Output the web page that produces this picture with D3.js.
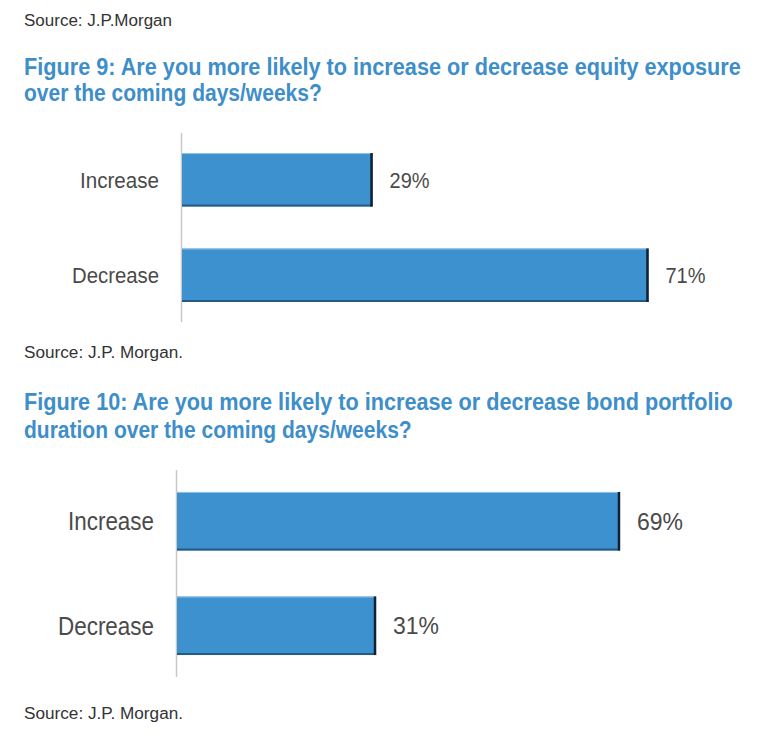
<!DOCTYPE html>
<html>
<head>
<meta charset="utf-8">
<script src="https://cdn.jsdelivr.net/npm/d3@7"></script>
<style>
  body { margin: 0; background: #fff; }
  text { font-family: "Liberation Sans", Arial, sans-serif; }
</style>
</head>
<body>
<div id="chart"></div>
<script>
// data
const categories = ['Increase', 'Decrease'];
const equityValues = [29, 71];
const bondValues = [69, 31];

const equityTitle = ['Figure 9: Are you more likely to increase or decrease equity exposure',
  'over the coming days/weeks?'];
const bondTitle = ['Figure 10: Are you more likely to increase or decrease bond portfolio',
  'duration over the coming days/weeks?'];
const sources = ['Source: J.P.Morgan', 'Source: J.P. Morgan.', 'Source: J.P. Morgan.'];

const WIDTH = 758;
const HEIGHT = 741;
const BLUE = '#3d8ec9';
const BAR = '#3e91cf';

const svg = d3.select('#chart')
  .append('svg')
  .attr('width', WIDTH)
  .attr('height', HEIGHT);

// text helper, squeezes the string into the width seen in the picture
function label(x, y, str, size, len, opts = {}) {
  const t = svg.append('text')
    .attr('x', x)
    .attr('y', y)
    .attr('font-size', size)
    .attr('fill', opts.fill || '#4a4a4a')
    .attr('font-weight', opts.bold ? 'bold' : 'normal')
    .attr('text-anchor', opts.anchor || 'start')
    .text(str);
  if (len) t.attr('textLength', len).attr('lengthAdjust', 'spacingAndGlyphs');
  return t;
}

// titles: narrow the glyphs with a horizontal scale so the tall type keeps its width
function title(x, y, str, size, len) {
  const g = svg.append('g');
  const t = g.append('text')
    .attr('font-size', size)
    .attr('font-weight', 'bold')
    .attr('fill', BLUE)
    .text(str);
  const w = t.node().getComputedTextLength();
  g.attr('transform', `translate(${x},${y}) scale(${len / w},1)`);
}

label(24, 26, sources[0], 16, 148, { fill: '#333' });
label(24, 358, sources[1], 16, 159, { fill: '#333' });
label(24, 719, sources[2], 16, 159, { fill: '#333' });

title(24, 75, equityTitle[0], 24, 717);
title(24, 101, equityTitle[1], 24, 298);
title(24, 410, bondTitle[0], 24, 709);
title(24, 438, bondTitle[1], 24, 388);

function drawBars(values, cfg) {
  const x = d3.scaleLinear()
    .domain([0, 100])
    .range([cfg.x0, cfg.x0 + cfg.perCent * 100]);

  const y = d3.scaleBand()
    .domain(categories)
    .range([cfg.top, cfg.bottom])
    .paddingInner(0.44)
    .paddingOuter(0.21);

  const g = svg.append('g');

  // vertical axis line
  g.append('line')
    .attr('x1', cfg.x0 - 0.5).attr('x2', cfg.x0 - 0.5)
    .attr('y1', cfg.top).attr('y2', cfg.bottom)
    .attr('stroke', '#c8c8c8')
    .attr('stroke-width', 1.5);

  const rows = g.selectAll('g.row')
    .data(categories.map((c, i) => ({ cat: c, val: values[i] })))
    .enter()
    .append('g')
    .attr('class', 'row');

  rows.append('rect')
    .attr('x', x(0))
    .attr('y', d => y(d.cat))
    .attr('width', d => x(d.val) - x(0))
    .attr('height', y.bandwidth())
    .attr('fill', BAR);

  // light top edge
  rows.append('line')
    .attr('x1', x(0)).attr('x2', d => x(d.val))
    .attr('y1', d => y(d.cat) + 0.5).attr('y2', d => y(d.cat) + 0.5)
    .attr('stroke', '#8fc2e8');

  // darker bottom edge
  rows.append('line')
    .attr('x1', x(0)).attr('x2', d => x(d.val))
    .attr('y1', d => y(d.cat) + y.bandwidth() - 1)
    .attr('y2', d => y(d.cat) + y.bandwidth() - 1)
    .attr('stroke', '#245a85')
    .attr('stroke-width', 2);

  // dark right edge
  rows.append('line')
    .attr('x1', d => x(d.val) - 1).attr('x2', d => x(d.val) - 1)
    .attr('y1', d => y(d.cat)).attr('y2', d => y(d.cat) + y.bandwidth())
    .attr('stroke', '#0e2236')
    .attr('stroke-width', 2.5);

  rows.append('text')
    .attr('x', cfg.x0 - 23)
    .attr('y', d => y(d.cat) + y.bandwidth() / 2 + cfg.catSize * 0.36)
    .attr('text-anchor', 'end')
    .attr('font-size', cfg.catSize)
    .attr('fill', '#4a4a4a')
    .attr('textLength', (d, i) => cfg.catLen[i])
    .attr('lengthAdjust', 'spacingAndGlyphs')
    .text(d => d.cat);

  rows.append('text')
    .attr('x', d => x(d.val) + 17)
    .attr('y', d => y(d.cat) + y.bandwidth() / 2 + cfg.valSize * 0.36)
    .attr('font-size', cfg.valSize)
    .attr('fill', '#4a4a4a')
    .attr('textLength', cfg.valLen)
    .attr('lengthAdjust', 'spacingAndGlyphs')
    .text(d => d.val + '%');
}

drawBars(equityValues, {
  x0: 182, perCent: 6.57, top: 133, bottom: 322,
  catSize: 22, catLen: [79, 87], valSize: 22, valLen: 40
});

drawBars(bondValues, {
  x0: 177, perCent: 6.42, top: 470, bottom: 677,
  catSize: 25, catLen: [86, 96], valSize: 24, valLen: 46
});
</script>
</body>
</html>
